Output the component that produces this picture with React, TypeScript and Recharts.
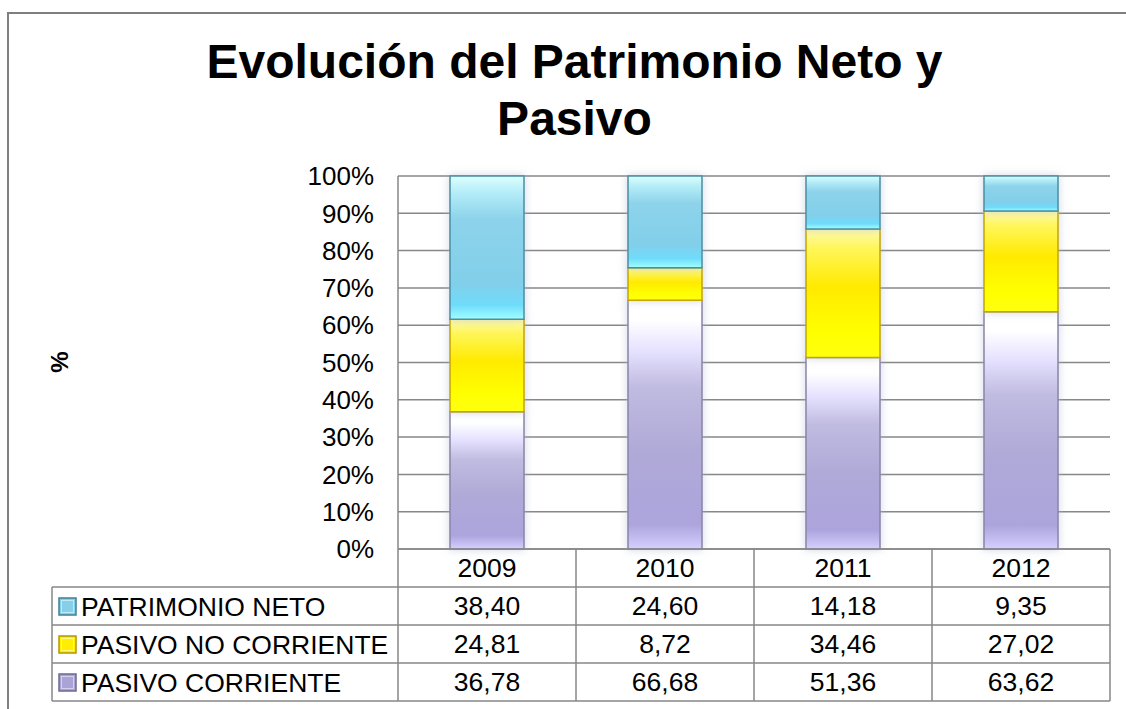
import React from "react";
import { BarChart, Bar, XAxis, YAxis, CartesianGrid } from "recharts";

const years = ["2009", "2010", "2011", "2012"];
const pasivoCorriente = [36.78, 66.68, 51.36, 63.62];
const pasivoNoCorriente = [24.81, 8.72, 34.46, 27.02];
const patrimonioNeto = [38.4, 24.6, 14.18, 9.35];
const yTicks = [0, 10, 20, 30, 40, 50, 60, 70, 80, 90, 100];

// rows of the data table, top to bottom
const tableRows = [
  { name: "PATRIMONIO NETO", values: patrimonioNeto, fill: "#86cfe8", stroke: "#3d8196" },
  { name: "PASIVO NO CORRIENTE", values: pasivoNoCorriente, fill: "#ffee00", stroke: "#b39700" },
  { name: "PASIVO CORRIENTE", values: pasivoCorriente, fill: "#aaa3d6", stroke: "#6e6990" },
];

const data = years.map((year, i) => ({
  year,
  corriente: pasivoCorriente[i],
  noCorriente: pasivoNoCorriente[i],
  patrimonio: patrimonioNeto[i],
}));

const W = 1126;
const H = 709;
const PLOT_LEFT = 398;
const PLOT_RIGHT = 1110;
const LEGEND_LEFT = 52;
const ROW_H = 38;
const BAND = (PLOT_RIGHT - PLOT_LEFT) / years.length;
const FONT = '"Liberation Sans", Arial, sans-serif';
const LINE = "#878787";
const TFS = 26.5;

const fmt = (v: number) => v.toFixed(2).replace(".", ",");

const TableTick = (props: any) => {
  const { x, y, payload } = props;
  const i = years.indexOf(payload.value);
  const left = x - BAND / 2;
  const right = x + BAND / 2;
  const top = y;
  return (
    <g>
      {/* year row */}
      <line x1={right} y1={top} x2={right} y2={top + ROW_H * 4} stroke={LINE} strokeWidth={1.5} />
      {i === 0 && (
        <line x1={left} y1={top} x2={left} y2={top + ROW_H * 4} stroke={LINE} strokeWidth={1.5} />
      )}
      <text x={x} y={top + 28} textAnchor="middle" fontSize={TFS} fontFamily={FONT} fill="#000">
        {payload.value}
      </text>
      {tableRows.map((row, r) => {
        const rt = top + ROW_H * (r + 1);
        return (
          <g key={row.name}>
            <line x1={left} y1={rt} x2={right} y2={rt} stroke={LINE} strokeWidth={1.5} />
            <text x={x} y={rt + 28} textAnchor="middle" fontSize={TFS} fontFamily={FONT} fill="#000">
              {fmt(row.values[i])}
            </text>
          </g>
        );
      })}
      <line x1={left} y1={top + ROW_H * 4} x2={right} y2={top + ROW_H * 4} stroke={LINE} strokeWidth={1.5} />
      {i === 0 &&
        tableRows.map((row, r) => {
          const rt = top + ROW_H * (r + 1);
          return (
            <g key={"lg" + row.name}>
              <line x1={LEGEND_LEFT} y1={rt} x2={left} y2={rt} stroke={LINE} strokeWidth={1.5} />
              <rect
                x={59}
                y={rt + 11}
                width={17}
                height={17}
                fill={row.fill}
                stroke={row.stroke}
                strokeWidth={1.5}
              />
              <rect x={61.5} y={rt + 13.5} width={12} height={12} fill="none" stroke="#fff" strokeOpacity={0.5} strokeWidth={1} />
              <text x={81} y={rt + 29} fontSize={TFS} fontFamily={FONT} fill="#000">
                {row.name}
              </text>
            </g>
          );
        })}
      {i === 0 && (
        <g>
          <line x1={LEGEND_LEFT} y1={top + ROW_H} x2={LEGEND_LEFT} y2={top + ROW_H * 4} stroke={LINE} strokeWidth={1.5} />
          <line x1={LEGEND_LEFT} y1={top + ROW_H * 4} x2={left} y2={top + ROW_H * 4} stroke={LINE} strokeWidth={1.5} />
        </g>
      )}
    </g>
  );
};

export default function App() {
  return (
    <div
      style={{
        position: "absolute",
        left: 0,
        top: 0,
        width: W,
        height: H,
        overflow: "hidden",
        background: "#fff",
        fontFamily: FONT,
      }}
    >
      <style>{`.recharts-bar-rectangle { filter: drop-shadow(0 0 4px rgba(170,180,205,0.55)); }`}</style>
      <div
        style={{
          position: "absolute",
          left: 7,
          top: 12,
          width: W - 7,
          height: H - 12,
          borderTop: "2px solid #7f7f7f",
          borderLeft: "2px solid #7f7f7f",
          boxSizing: "border-box",
        }}
      />
      <div
        style={{
          position: "absolute",
          left: 0,
          top: 33,
          width: 1149,
          textAlign: "center",
          fontSize: 48,
          fontWeight: "bold",
          lineHeight: "57px",
          color: "#000",
        }}
      >
        Evolución del Patrimonio Neto y
        <br />
        Pasivo
      </div>
      <div
        style={{
          position: "absolute",
          left: 40,
          top: 346,
          width: 40,
          height: 32,
          textAlign: "center",
          fontSize: 24,
          fontWeight: "bold",
          transform: "rotate(-90deg)",
          lineHeight: "32px",
        }}
      >
        %
      </div>
      <div style={{ position: "absolute", left: 0, top: 0 }}>
        <BarChart
          width={W}
          height={H}
          data={data}
          margin={{ top: 176, right: W - PLOT_RIGHT, bottom: 0, left: PLOT_LEFT - 60 }}
          barSize={74}
        >
          <defs>
            <linearGradient id="gCyan" x1="0" y1="0" x2="0" y2="1">
              <stop offset="0" stopColor="#dcffff" />
              <stop offset="0.12" stopColor="#b3ecf7" />
              <stop offset="0.3" stopColor="#8dd3ea" />
              <stop offset="0.75" stopColor="#82cfea" />
              <stop offset="0.9" stopColor="#6fdcfb" />
              <stop offset="1" stopColor="#a0ffff" />
            </linearGradient>
            <linearGradient id="gYellow" x1="0" y1="0" x2="0" y2="1">
              <stop offset="0" stopColor="#fffbb0" />
              <stop offset="0.15" stopColor="#fff65a" />
              <stop offset="0.45" stopColor="#ffea00" />
              <stop offset="0.8" stopColor="#ffff00" />
              <stop offset="1" stopColor="#ffff10" />
            </linearGradient>
            <linearGradient id="gPurple" x1="0" y1="0" x2="0" y2="1">
              <stop offset="0" stopColor="#ffffff" />
              <stop offset="0.08" stopColor="#ffffff" />
              <stop offset="0.2" stopColor="#e6e2ff" />
              <stop offset="0.35" stopColor="#c0bbe0" />
              <stop offset="0.6" stopColor="#b0aad8" />
              <stop offset="0.9" stopColor="#aca4dc" />
              <stop offset="1" stopColor="#d6cfff" />
            </linearGradient>
          </defs>
          <CartesianGrid vertical={false} stroke={LINE} strokeWidth={1.5} />
          <XAxis
            dataKey="year"
            height={H - 549}
            interval={0}
            axisLine={{ stroke: LINE, strokeWidth: 1.5 }}
            tickLine={false}
            tickSize={0}
            tickMargin={0}
            tick={<TableTick />}
          />
          <YAxis
            width={60}
            domain={[0, 100]}
            ticks={yTicks}
            interval={0}
            tickFormatter={(v: number) => `${v}%`}
            axisLine={{ stroke: LINE, strokeWidth: 1.5 }}
            tickLine={false}
            tickSize={6}
            tickMargin={18}
            tick={{ fontSize: 26, fill: "#000", fontFamily: FONT }}
          />
          <Bar
            dataKey="corriente"
            stackId="a"
            fill="url(#gPurple)"
            stroke="#8a84a8"
            strokeWidth={1.5}
            isAnimationActive={false}
          />
          <Bar
            dataKey="noCorriente"
            stackId="a"
            fill="url(#gYellow)"
            stroke="#c4a600"
            strokeWidth={1.5}
            isAnimationActive={false}
          />
          <Bar
            dataKey="patrimonio"
            stackId="a"
            fill="url(#gCyan)"
            stroke="#4b8ea3"
            strokeWidth={1.5}
            isAnimationActive={false}
          />
        </BarChart>
      </div>
    </div>
  );
}
